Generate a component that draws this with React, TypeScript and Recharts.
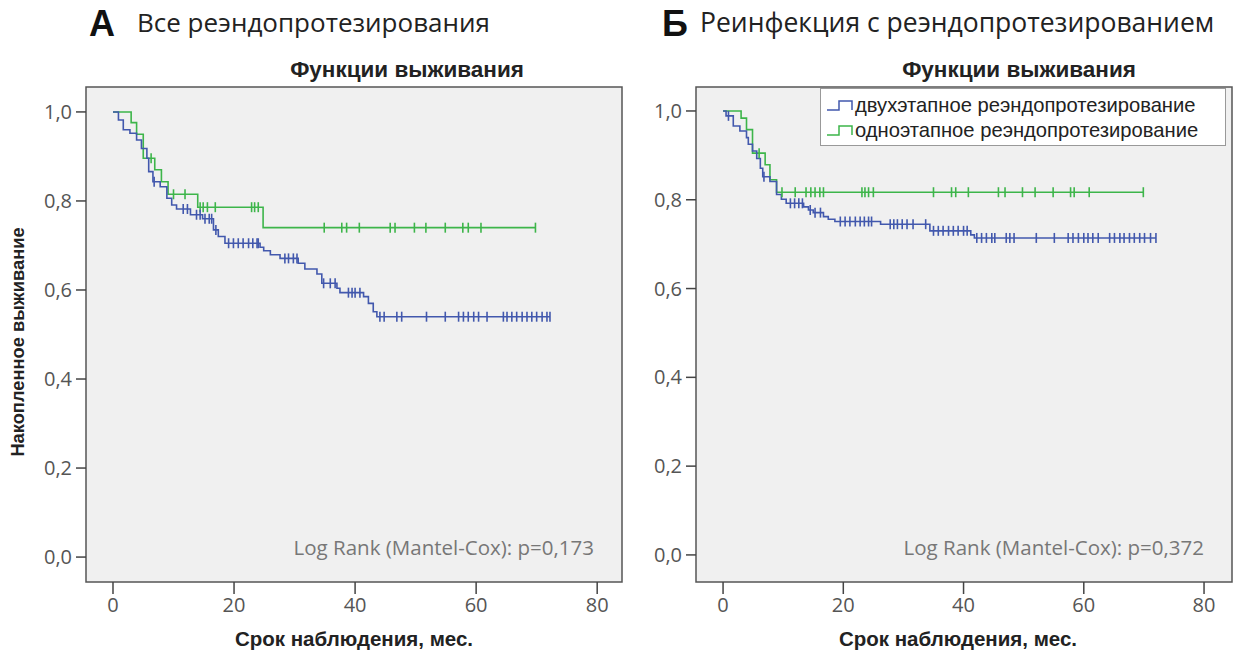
import React from 'react';
import { ComposedChart, Line, Scatter, XAxis, YAxis, CartesianGrid, ReferenceArea } from 'recharts';

const xTicks = [0, 20, 40, 60, 80];
const yTicks = [0, 0.2, 0.4, 0.6, 0.8, 1.0];

const BLUE = '#4258ad';
const GREEN = '#3db54a';

// А: все реэндопротезирования — [время, выживаемость]
const allTwoStageSteps: [number, number][] = [
  [0, 1], [0.9, 0.982], [1.7, 0.96], [2.8, 0.952], [3.9, 0.937], [4.7, 0.918], [5.6, 0.896],
  [5.9, 0.866], [6.6, 0.843], [7.8, 0.832], [8.9, 0.806], [9.7, 0.791], [10.5, 0.782],
  [12.8, 0.769], [14.8, 0.76], [16.6, 0.735], [17.4, 0.72], [18.5, 0.705], [24.3, 0.696],
  [24.9, 0.688], [26.0, 0.679], [27.6, 0.671], [30.6, 0.66], [31.7, 0.647], [33.7, 0.636],
  [34.5, 0.615], [37.0, 0.604], [37.5, 0.594], [41.4, 0.585], [42.2, 0.57], [43.0, 0.551],
  [43.6, 0.54],
];
const allTwoStageCensored = [
  6.8, 11.6, 12.3, 13.8, 14.4, 15.2, 15.9, 16.3, 17.0, 19.1, 19.9, 20.7, 21.5, 22.4, 23.1, 23.8,
  24.0, 28.4, 29.0, 29.8, 30.4, 34.8, 35.9, 36.7, 38.9, 39.5, 40.0, 40.8, 44.1, 44.8, 46.9, 47.7,
  51.8, 54.9, 57.1, 57.9, 58.7, 59.6, 60.4, 61.8, 64.5, 65.1, 65.9, 66.7, 67.6, 68.4, 69.2, 70.0,
  70.9, 71.7, 72.2,
];
const allOneStageSteps: [number, number][] = [
  [0, 1], [3.0, 0.976], [3.9, 0.95], [5.0, 0.896], [6.9, 0.87], [8.0, 0.843], [9.1, 0.815],
  [14.0, 0.786], [24.8, 0.74],
];
const allOneStageCensored = [
  6.3, 10.0, 11.9, 14.4, 14.9, 15.6, 16.9, 22.9, 23.4, 24.0, 34.9, 37.8, 38.6, 40.7, 45.8, 46.6,
  49.8, 51.7, 54.9, 57.8, 58.7, 60.8, 69.8,
];

// Б: реинфекция с реэндопротезированием
const reinfTwoStageSteps: [number, number][] = [
  [0, 1], [0.5, 0.989], [1.7, 0.966], [2.8, 0.955], [3.9, 0.94], [4.2, 0.925], [4.9, 0.91],
  [5.6, 0.893], [6.2, 0.871], [6.6, 0.852], [7.8, 0.841], [8.9, 0.812], [9.7, 0.801],
  [10.5, 0.792], [13.4, 0.784], [14.2, 0.777], [15.0, 0.771], [16.7, 0.762], [17.5, 0.756],
  [18.6, 0.751], [26.2, 0.745], [34.4, 0.73], [41.2, 0.721], [41.8, 0.714],
];
const reinfTwoStageCensored = [
  0.9, 6.8, 11.2, 11.9, 12.6, 13.2, 14.5, 15.3, 16.2, 19.5, 20.3, 21.1, 22.0, 22.8, 23.5, 24.2,
  24.7, 27.8, 28.4, 29.0, 29.8, 30.6, 31.6, 33.7, 35.0, 35.8, 36.6, 37.5, 38.3, 39.1, 40.0, 40.6,
  42.2, 43.0, 43.8, 44.7, 45.2, 47.1, 47.7, 48.4, 52.1, 55.1, 57.4, 58.2, 59.1, 60.0, 60.7, 61.5,
  62.4, 64.3, 65.1, 66.0, 66.7, 67.6, 68.4, 69.3, 70.1, 71.1, 72.0,
];
const reinfOneStageSteps: [number, number][] = [
  [0, 1], [3.0, 0.984], [3.9, 0.958], [4.9, 0.905], [7.0, 0.879], [7.8, 0.845], [8.9, 0.817],
];
const reinfOneStageCensored = [
  6.0, 9.8, 12.0, 13.8, 14.6, 15.3, 16.1, 16.7, 23.1, 23.6, 24.2, 25.0, 35.0, 38.0, 38.7, 40.8,
  45.8, 46.9, 49.8, 51.9, 54.9, 57.8, 58.4, 60.9, 69.9,
];

const legendLabels = ['двухэтапное реэндопротезирование', 'одноэтапное реэндопротезирование'];

const survivalAt = (steps: [number, number][], t: number) => {
  let v = steps[0][1];
  for (const [st, sv] of steps) if (st <= t) v = sv;
  return v;
};

const toLine = (steps: [number, number][], censored: number[]) => {
  const pts = steps.map(([t, v]) => ({ t, v }));
  pts.push({ t: Math.max(...censored), v: steps[steps.length - 1][1] });
  return pts;
};

const toCensor = (steps: [number, number][], censored: number[]) =>
  censored.map((t) => ({ t, v: survivalAt(steps, t) }));

const censorMark = (color: string) => (props: any) => {
  const { cx, cy } = props;
  return <line x1={cx} x2={cx} y1={cy - 5} y2={cy + 5} stroke={color} strokeWidth={1.6} />;
};

const tickFont = { fontFamily: 'Open Sans', fontSize: 20, fill: '#555' };

interface PanelProps {
  left: number;
  width: number;
  margin: { top: number; right: number; bottom: number; left: number };
  xDomain: [number, number];
  yDomain: [number, number];
  blueSteps: [number, number][];
  blueCens: number[];
  greenSteps: [number, number][];
  greenCens: number[];
}

const Panel = ({ left, width, margin, xDomain, yDomain, blueSteps, blueCens, greenSteps, greenCens }: PanelProps) => (
  <div style={{ position: 'absolute', left, top: 0 }}>
    <ComposedChart width={width} height={653} margin={margin}>
      <CartesianGrid fill="#f0f0f0" horizontal={false} vertical={false} />
      <XAxis
        type="number"
        dataKey="t"
        domain={xDomain}
        ticks={xTicks}
        allowDataOverflow
        axisLine={false}
        tickSize={12}
        tickMargin={4}
        tickLine={{ stroke: '#444', strokeWidth: 1.5 }}
        tick={tickFont}
      />
      <YAxis
        type="number"
        dataKey="v"
        domain={yDomain}
        ticks={yTicks}
        allowDataOverflow
        width={60}
        axisLine={false}
        tickSize={10}
        tickMargin={4}
        tickLine={{ stroke: '#444', strokeWidth: 1.5 }}
        tick={tickFont}
        tickFormatter={(v: number) => v.toFixed(1).replace('.', ',')}
      />
      <ReferenceArea
        x1={xDomain[0]}
        x2={xDomain[1]}
        y1={yDomain[0]}
        y2={yDomain[1]}
        fill="none"
        stroke="#555"
        strokeWidth={1.5}
        ifOverflow="visible"
      />
      <Line
        type="stepAfter"
        data={toLine(greenSteps, greenCens)}
        dataKey="v"
        stroke={GREEN}
        strokeWidth={1.6}
        dot={false}
        isAnimationActive={false}
      />
      <Line
        type="stepAfter"
        data={toLine(blueSteps, blueCens)}
        dataKey="v"
        stroke={BLUE}
        strokeWidth={1.6}
        dot={false}
        isAnimationActive={false}
      />
      <Scatter data={toCensor(greenSteps, greenCens)} shape={censorMark(GREEN)} isAnimationActive={false} />
      <Scatter data={toCensor(blueSteps, blueCens)} shape={censorMark(BLUE)} isAnimationActive={false} />
    </ComposedChart>
  </div>
);

const abs = (style: React.CSSProperties): React.CSSProperties => ({
  position: 'absolute',
  whiteSpace: 'nowrap',
  lineHeight: 1,
  ...style,
});

const headerLetter = { fontFamily: 'Liberation Sans', fontWeight: 700, fontSize: 36, color: '#111' };
const headerText = { fontFamily: 'Open Sans', fontSize: 26, color: '#222' };
const subTitle = { fontFamily: 'Liberation Sans', fontWeight: 700, fontSize: 22.5, color: '#222' };
const axisTitle = { fontFamily: 'Liberation Sans', fontWeight: 700, fontSize: 20.5, color: '#222' };
const logRank = { fontFamily: 'Open Sans', fontSize: 20.5, color: '#777' };

const StepIcon = ({ color }: { color: string }) => (
  <svg width={28} height={18} style={{ display: 'block' }}>
    <path d="M1,13 H13 V4 H26 V13" fill="none" stroke={color} strokeWidth={1.5} />
  </svg>
);

export default function App() {
  return (
    <div style={{ position: 'absolute', left: 0, top: 0, width: 1238, height: 653, background: '#fff', overflow: 'hidden' }}>
      <Panel
        left={0}
        width={640}
        margin={{ top: 87, right: 18, bottom: 41, left: 26 }}
        xDomain={[-4.46, 84.1]}
        yDomain={[-0.056, 1.056]}
        blueSteps={allTwoStageSteps}
        blueCens={allTwoStageCensored}
        greenSteps={allOneStageSteps}
        greenCens={allOneStageCensored}
      />
      <Panel
        left={620}
        width={618}
        margin={{ top: 87, right: 6, bottom: 41, left: 16 }}
        xDomain={[-4.5, 84.65]}
        yDomain={[-0.061, 1.054]}
        blueSteps={reinfTwoStageSteps}
        blueCens={reinfTwoStageCensored}
        greenSteps={reinfOneStageSteps}
        greenCens={reinfOneStageCensored}
      />

      <div style={abs({ left: 89, top: 6, ...headerLetter })}>А</div>
      <div style={abs({ left: 137, top: 9, ...headerText })}>Все реэндопротезирования</div>
      <div style={abs({ left: 662, top: 6, ...headerLetter })}>Б</div>
      <div style={abs({ left: 700, top: 9, ...headerText, fontSize: 26.5 })}>Реинфекция с реэндопротезированием</div>

      <div style={abs({ left: 407, top: 59, transform: 'translateX(-50%)', ...subTitle })}>Функции выживания</div>
      <div style={abs({ left: 1019, top: 59, transform: 'translateX(-50%)', ...subTitle })}>Функции выживания</div>

      <div style={abs({ left: 18, top: 342, transform: 'translate(-50%, -50%) rotate(-90deg)', ...axisTitle, fontSize: 18.3 })}>
        Накопленное выживание
      </div>
      <div style={abs({ left: 354, top: 629, transform: 'translateX(-50%)', ...axisTitle })}>Срок наблюдения, мес.</div>
      <div style={abs({ left: 958, top: 629, transform: 'translateX(-50%)', ...axisTitle })}>Срок наблюдения, мес.</div>

      <div style={abs({ right: 1238 - 594, top: 537, ...logRank })}>Log Rank (Mantel-Cox): p=0,173</div>
      <div style={abs({ right: 1238 - 1204, top: 537, ...logRank })}>Log Rank (Mantel-Cox): p=0,372</div>

      <div
        style={{
          position: 'absolute',
          left: 820,
          top: 88,
          width: 406,
          height: 58,
          background: '#fff',
          border: '1px solid #999',
          boxSizing: 'border-box',
          padding: '4px 0 0 5px',
        }}
      >
        {legendLabels.map((label, i) => (
          <div key={label} style={{ display: 'flex', alignItems: 'center', height: 25 }}>
            <StepIcon color={i === 0 ? BLUE : GREEN} />
            <span style={{ fontFamily: 'Liberation Sans', fontSize: 20.2, color: '#222', marginLeft: 1 }}>{label}</span>
          </div>
        ))}
      </div>
    </div>
  );
}
